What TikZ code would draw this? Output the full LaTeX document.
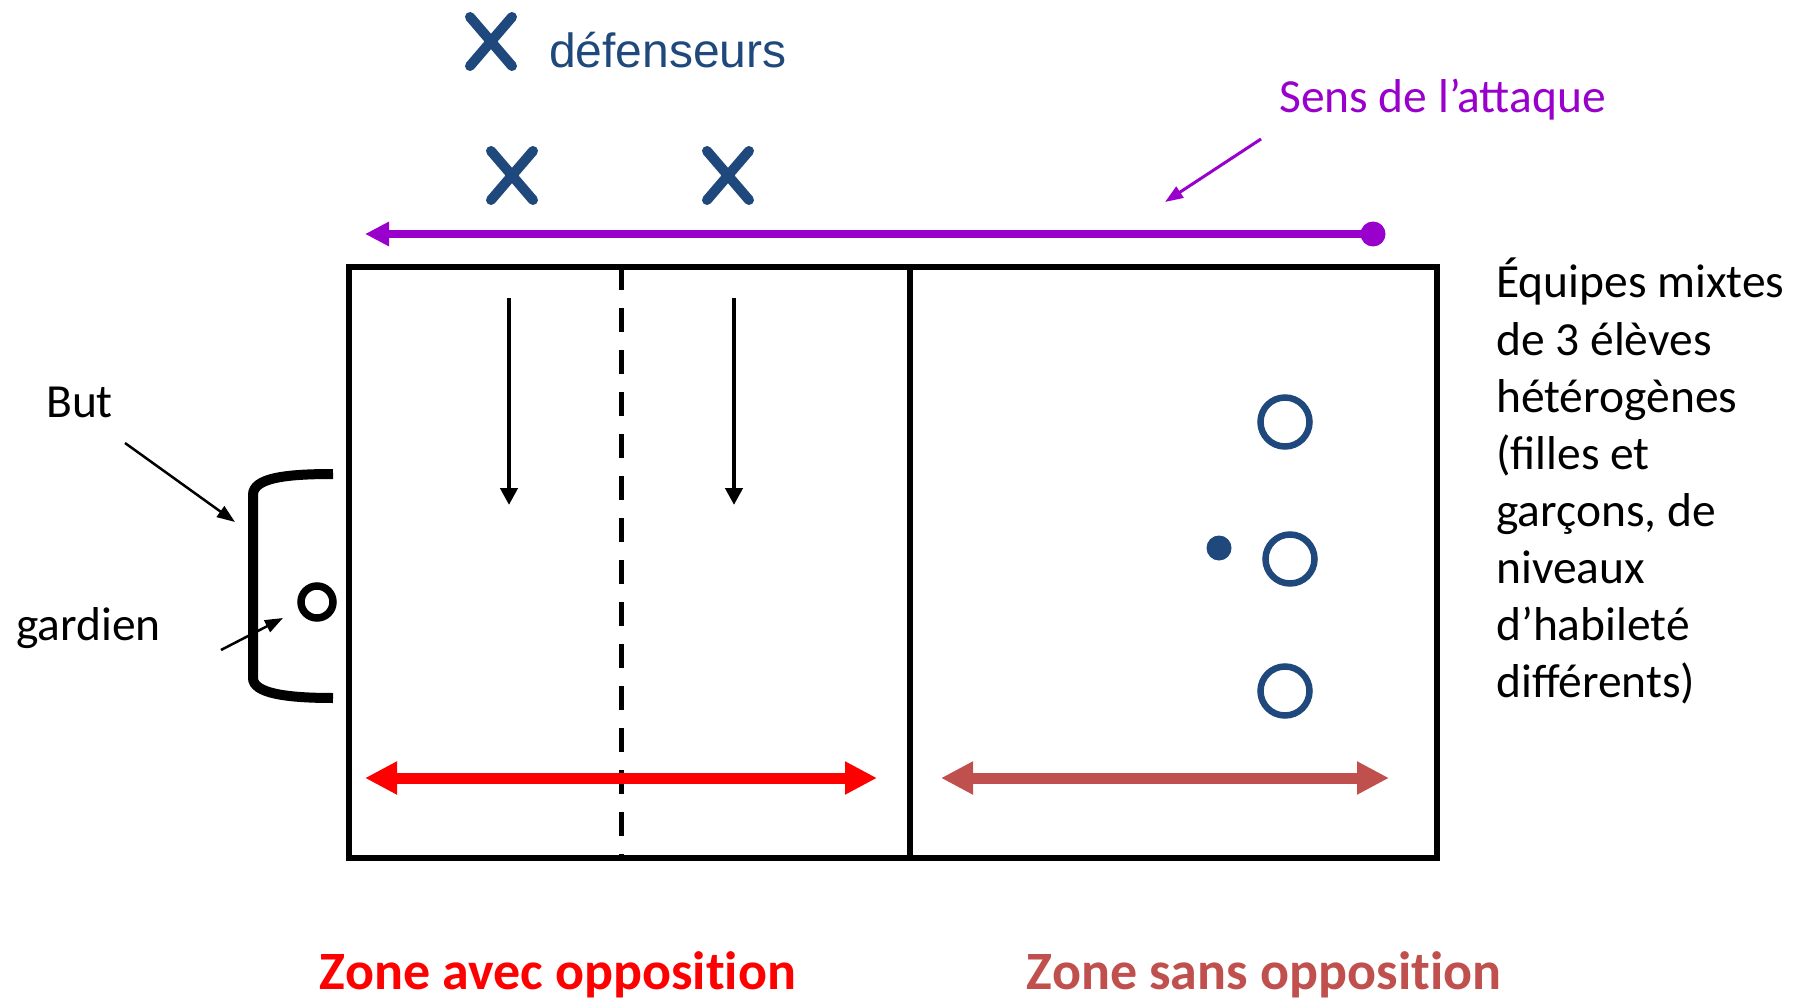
\documentclass[tikz,border=0pt]{standalone}
\usepackage{fontspec}
\setmainfont{Carlito}
\newfontfamily\arialfont{Liberation Sans}
\newfontfamily\zonefont[Ligatures=NoCommon]{Carlito}
\usetikzlibrary{arrows.meta}
\definecolor{dblue}{HTML}{1F497D}
\definecolor{attackpurple}{HTML}{9900CC}
\definecolor{zonered}{HTML}{FF0000}
\definecolor{zonebrown}{HTML}{C0504D}
\tikzset{
  calib/.style={font=\fontsize{47.5}{57}\selectfont, inner sep=0pt, anchor=base west},
  zonelabel/.style={font=\zonefont\fontsize{54}{60}\selectfont\bfseries, inner sep=0pt, anchor=base},
  fieldline/.style={line width=6pt, black},
  thinarrow/.style={line width=2.5pt, -{Triangle[length=18pt,width=13pt]}},
  downarrow/.style={line width=4.5pt, -{Triangle[length=17pt,width=17pt]}},
  zonearrow/.style={line width=11pt, {Triangle[length=32pt,width=31pt]}-{Triangle[length=32pt,width=31pt]}},
  playerring/.style={draw=dblue, line width=6.5pt},
  defx/.pic={\draw[dblue, line width=10pt, line cap=round] (-21,-24.5) -- (21,24.5) (21,-24.5) -- (-21,24.5);}
}
\begin{document}
\begin{tikzpicture}[x=1pt,y=-1pt]
\useasboundingbox[fill=white] (0,0) rectangle (1805,1003);

% legend
\pic (legx) at (491,41.5) {defx};
\node[font=\arialfont\fontsize{48}{56}\selectfont, text=dblue, inner sep=0pt, anchor=base west] (deflabel) at (549,68) {défenseurs};

% defenders
\pic (xa) at (512,175.5) {defx};
\pic (xb) at (728,175.5) {defx};

% attack direction
\node[calib, text=attackpurple] (sens) at (1279,113) {Sens de l’attaque};
\coordinate (sensS) at (1261,139);
\coordinate (sensE) at (1165,202);
\draw[attackpurple, thinarrow, line width=3pt] (sensS) -- (sensE);
\node[circle, fill=attackpurple, minimum size=25pt, inner sep=0pt] (dot) at (1373,234) {};
\coordinate (attackE) at (365,234);
\draw[attackpurple, line width=8pt, -{Triangle[length=24pt,width=23pt]}] (dot.center) -- (attackE);

% field
\draw[fieldline] (349,267) rectangle (1437,858);
\coordinate (midT) at (910,267);
\coordinate (midB) at (910,858);
\draw[line width=5.5pt] (midT) -- (midB);
\coordinate (dashT) at (621,266);
\coordinate (dashB) at (621,858);
\draw[line width=5pt, dash pattern=on 24pt off 18pt] (dashT) -- (dashB);

% defenders' movement
\coordinate (d1S) at (509,298);
\coordinate (d1E) at (509,505);
\coordinate (d2S) at (734,298);
\coordinate (d2E) at (734,505);
\draw[downarrow] (d1S) -- (d1E);
\draw[downarrow] (d2S) -- (d2E);

% zone arrows
\coordinate (zaL) at (365,778);
\coordinate (zaR) at (877,778);
\draw[zonered, zonearrow] (zaL) -- (zaR);
\coordinate (zsL) at (941,778);
\coordinate (zsR) at (1389,778);
\draw[zonebrown, zonearrow] (zsL) -- (zsR);

% goal
\draw[line width=10pt] (333,474) .. controls (285,474) and (253,478) .. (253,495)
  -- (253,678) .. controls (253,693) and (285,698) .. (333,698);
\node[circle, draw=black, line width=7.5pt, minimum size=32pt, inner sep=0pt] (keeper) at (317,602) {};
\node[calib] (but) at (46,417) {But};
\node[calib] (gardien) at (16,640) {gardien};
\coordinate (butS) at (125,443);
\coordinate (butE) at (235,522);
\draw[thinarrow] (butS) -- (butE);
\coordinate (garS) at (221,650);
\coordinate (garE) at (283,618);
\draw[thinarrow] (garS) -- (garE);

% attackers
\node[circle, playerring, minimum size=49pt, inner sep=0pt] (p1) at (1285,422) {};
\node[circle, playerring, minimum size=49pt, inner sep=0pt] (p2) at (1290,559) {};
\node[circle, playerring, minimum size=49pt, inner sep=0pt] (p3) at (1285,691) {};
\node[circle, fill=dblue, minimum size=25pt, inner sep=0pt] (ball) at (1219,548) {};

% team description
\node[calib] (team0) at (1496,298.0) {Équipes mixtes};
\node[calib] (team1) at (1496,355.1) {de 3 élèves};
\node[calib] (team2) at (1496,412.2) {hétérogènes};
\node[calib] (team3) at (1496,469.3) {(filles et};
\node[calib] (team4) at (1496,526.4) {garçons, de};
\node[calib] (team5) at (1496,583.5) {niveaux};
\node[calib] (team6) at (1496,640.6) {d’habileté};
\node[calib] (team7) at (1496,697.7) {différents)};

% zone labels
\node[zonelabel, text=zonered] (zavec) at (558,989) {Zone avec opposition};
\node[zonelabel, text=zonebrown] (zsans) at (1264,989) {Zone sans opposition};
\end{tikzpicture}
\end{document}
